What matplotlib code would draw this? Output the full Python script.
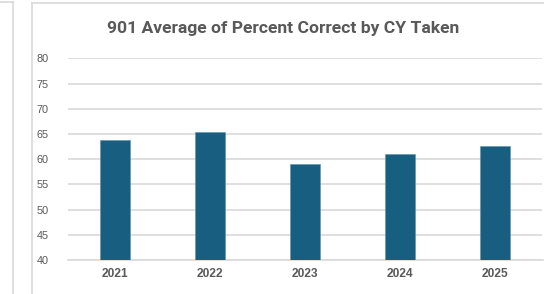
import matplotlib
matplotlib.use("Agg")
import matplotlib.pyplot as plt
from matplotlib.lines import Line2D

years = ["2021", "2022", "2023", "2024", "2025"]
avg_pct = [63.7, 65.3, 59.0, 61.0, 62.6]
yticks = [40, 45, 50, 55, 60, 65, 70, 75, 80]
title = "901 Average of Percent Correct by CY Taken"

W, H = 544, 294
fig = plt.figure(figsize=(W / 100, H / 100), dpi=100)
fig.patch.set_facecolor("white")

def fx(px):
    return px / W

def fy(py):
    return 1 - py / H

# frames (chart borders)
border = "#d9d9d9"
fig.add_artist(Line2D([fx(32), fx(32)], [fy(3), fy(294)], color=border, lw=1.2))
fig.add_artist(Line2D([fx(32), fx(544)], [fy(3), fy(3)], color=border, lw=1.2))
fig.add_artist(Line2D([fx(13), fx(13)], [fy(2), fy(294)], color=border, lw=1.2))
fig.add_artist(Line2D([fx(0), fx(13)], [fy(2), fy(2)], color=border, lw=1.2))

ax = fig.add_axes([fx(67.5), fy(260), fx(542.5) - fx(67.5), fy(58.3) - fy(260)])
x = list(range(len(years)))
ax.bar(x, avg_pct, width=0.316, color="#175e80", edgecolor="#5f93ad", linewidth=0.4, zorder=3)
ax.set_xlim(-0.5, len(years) - 0.5)
ax.set_ylim(40, 80)
ax.set_yticks(yticks)
ax.set_yticklabels([str(t) for t in yticks], family="Liberation Sans", fontsize=7.8)
ax.set_xticks(x)
ax.set_xticklabels(years, fontweight="bold", family="Liberation Sans", fontsize=8.6)
ax.grid(axis="y", color="#d9d9d9", lw=1.2, zorder=0)
for s in ["top", "right", "left"]:
    ax.spines[s].set_visible(False)
ax.spines["bottom"].set_color("#d9d9d9")
ax.spines["bottom"].set_linewidth(1.2)
ax.tick_params(axis="both", length=0, colors="#595959")
ax.tick_params(axis="y", pad=13.5)
ax.tick_params(axis="x", pad=6)
ax.set_facecolor("none")

fig.text(fx(283), fy(28), title, ha="center", va="center", fontsize=12.6,
         fontweight="bold", color="#595959", family="Roboto", fontstretch="condensed")

fig.savefig("out.png", dpi=100)
